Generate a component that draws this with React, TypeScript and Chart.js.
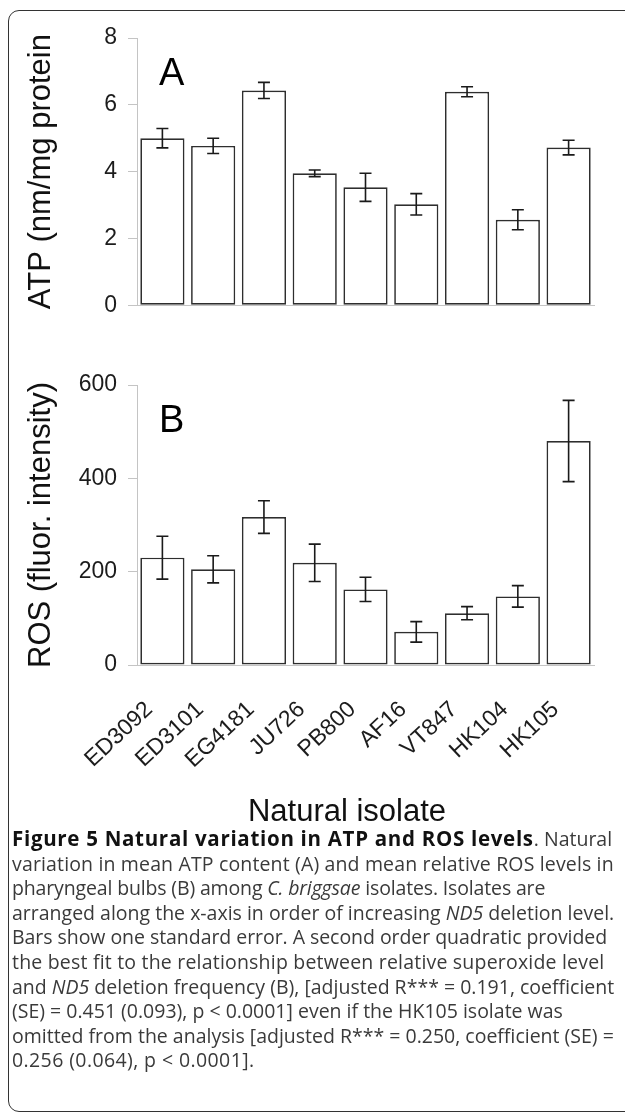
import React, { useEffect, useRef } from "react";
import { Chart, registerables } from "chart.js";

Chart.register(...registerables);

// ---- data ----
const isolates = ["ED3092", "ED3101", "EG4181", "JU726", "PB800", "AF16", "VT847", "HK104", "HK105"];
const atpMean = [5.0, 4.77, 6.43, 3.95, 3.53, 3.02, 6.39, 2.56, 4.72];
const atpSE = [0.29, 0.23, 0.24, 0.1, 0.42, 0.32, 0.15, 0.3, 0.22];
const rosMean = [230, 205, 317, 219, 162, 71, 111, 147, 480];
const rosSE = [46, 29, 35, 40, 26, 22, 14, 23, 87];
const atpTicks = [0, 2, 4, 6, 8];
const rosTicks = [0, 200, 400, 600];

const FONT = "'Liberation Sans', Arial, Helvetica, sans-serif";
const TICK_SIZE = 23;
const AXIS_GRAY = "#c4c4c4";
const INK = "#1c1c1c";

function textWidth(text: string, size: number): number {
  const c = document.createElement("canvas").getContext("2d") as CanvasRenderingContext2D;
  c.font = `normal ${size}px ${FONT}`;
  return c.measureText(text).width;
}

function makeErrorBars(errors: number[]) {
  return {
    id: "errorBars",
    afterDatasetsDraw(chart: any) {
      const ctx = chart.ctx;
      const meta = chart.getDatasetMeta(0);
      const yScale = chart.scales.y;
      const vals = chart.data.datasets[0].data as number[];
      const cap = 6;
      ctx.save();
      ctx.strokeStyle = "#1a1a1a";
      ctx.lineWidth = 1.6;
      meta.data.forEach((bar: any, i: number) => {
        const x = bar.x;
        const yTop = yScale.getPixelForValue(vals[i] + errors[i]);
        const yBot = yScale.getPixelForValue(vals[i] - errors[i]);
        ctx.beginPath();
        ctx.moveTo(x, yTop);
        ctx.lineTo(x, yBot);
        ctx.moveTo(x - cap, yTop);
        ctx.lineTo(x + cap, yTop);
        ctx.moveTo(x - cap, yBot);
        ctx.lineTo(x + cap, yBot);
        ctx.stroke();
      });
      ctx.restore();
    },
  };
}

function makePanelLabel(text: string) {
  return {
    id: "panelLabel",
    afterDraw(chart: any) {
      const { ctx, chartArea } = chart;
      ctx.save();
      ctx.fillStyle = "#000";
      ctx.font = `38px ${FONT}`;
      ctx.textAlign = "left";
      ctx.textBaseline = "alphabetic";
      ctx.fillText(text, chartArea.left + 22, chartArea.top + 47);
      ctx.restore();
    },
  };
}

function barDataset(values: number[]) {
  return {
    data: values,
    backgroundColor: "#ffffff",
    borderColor: "#2e2e2e",
    borderWidth: 1.7,
    borderSkipped: false as const,
    categoryPercentage: 1,
    barPercentage: 0.87,
  };
}

function yAxis(tickValues: number[], title: string, width: number, titlePad: number, mirrored: boolean) {
  const labels = tickValues.map((v) => String(v));
  const widest = Math.max(...labels.map((l) => textWidth(l, TICK_SIZE)));
  const ticks: any = { color: INK, font: { family: FONT, size: TICK_SIZE } };
  if (mirrored) {
    // labels left of the axis, drawn without clipping to the (narrow) scale box
    ticks.mirror = true;
    ticks.crossAlign = "far";
    ticks.padding = -20 - widest;
  } else {
    ticks.padding = 11;
  }
  return {
    min: tickValues[0],
    max: tickValues[tickValues.length - 1],
    afterBuildTicks: (s: any) => {
      s.ticks = tickValues.map((v) => ({ value: v }));
    },
    afterFit: (s: any) => {
      s.width = width;
    },
    ticks,
    grid: { display: true, drawOnChartArea: false, drawTicks: true, tickLength: 9, color: AXIS_GRAY, lineWidth: 1 },
    border: { display: true, color: AXIS_GRAY, width: 1 },
    title: {
      display: true,
      text: title,
      color: "#111",
      font: { family: FONT, size: 31 },
      padding: { top: titlePad, bottom: 0 },
    },
  };
}

function ChartA() {
  const ref = useRef<HTMLCanvasElement>(null);
  useEffect(() => {
    const chart = new Chart(ref.current as HTMLCanvasElement, {
      type: "bar",
      data: { labels: isolates, datasets: [barDataset(atpMean) as any] },
      options: {
        animation: false,
        responsive: true,
        maintainAspectRatio: false,
        layout: { padding: { top: 38, bottom: 14, left: 0, right: 31 } },
        plugins: { legend: { display: false }, tooltip: { enabled: false }, title: { display: false } },
        scales: {
          x: {
            grid: { display: false, drawTicks: false },
            ticks: { display: false },
            border: { display: true, color: AXIS_GRAY, width: 1 },
            afterFit: (s: any) => {
              s.height = 0;
            },
          },
          y: yAxis(atpTicks, "ATP (nm/mg protein", 137, 22.4, false) as any,
        },
      },
      plugins: [makeErrorBars(atpSE), makePanelLabel("A")],
    });
    return () => chart.destroy();
  }, []);
  return (
    <div style={{ position: "absolute", left: 0, top: 0, width: 625, height: 330 }}>
      <canvas ref={ref} />
    </div>
  );
}

function ChartB() {
  const ref = useRef<HTMLCanvasElement>(null);
  useEffect(() => {
    const chart = new Chart(ref.current as HTMLCanvasElement, {
      type: "bar",
      data: { labels: isolates, datasets: [barDataset(rosMean) as any] },
      options: {
        animation: false,
        responsive: true,
        maintainAspectRatio: false,
        layout: { padding: { top: 45, bottom: 0, left: 100, right: 31 } },
        plugins: {
          legend: { display: false },
          tooltip: { enabled: false },
          title: {
            display: true,
            position: "bottom",
            text: "Natural isolate",
            color: "#111",
            font: { family: FONT, size: 31, weight: "normal" },
            padding: { top: 18.8, bottom: 0 },
            fullSize: true,
          },
        },
        scales: {
          x: {
            grid: { display: false, drawTicks: false },
            ticks: {
              color: INK,
              font: { family: FONT, size: TICK_SIZE },
              minRotation: 43,
              maxRotation: 43,
              autoSkip: false,
              padding: 31,
              labelOffset: -13,
            },
            border: { display: true, color: AXIS_GRAY, width: 1 },
            afterFit: (s: any) => {
              s.height = 110;
            },
          },
          y: yAxis(rosTicks, "ROS (fluor. intensity)", 37, -77.6, true) as any,
        },
      },
      plugins: [makeErrorBars(rosSE), makePanelLabel("B")],
    });
    return () => chart.destroy();
  }, []);
  return (
    <div style={{ position: "absolute", left: 0, top: 340, width: 625, height: 491 }}>
      <canvas ref={ref} />
    </div>
  );
}

const ln = (ls: number): React.CSSProperties => ({ whiteSpace: "nowrap", letterSpacing: `${ls}px` });

function Caption() {
  return (
    <div
      style={{
        position: "absolute",
        left: 12,
        top: 826,
        width: 606,
        fontFamily: "'Open Sans', 'Noto Sans', sans-serif",
        fontSize: 19.5,
        lineHeight: "24.6px",
        color: "#3a3a3a",
      }}
    >
      <div style={ln(0)}>
        <b style={{ color: "#111", fontSize: 20.5, letterSpacing: "0.7px" }}>
          Figure 5 Natural variation in ATP and ROS levels
        </b>
        . Natural
      </div>
      <div style={ln(0.15)}>variation in mean ATP content (A) and mean relative ROS levels in</div>
      <div style={ln(-0.15)}>
        pharyngeal bulbs (B) among <i>C. briggsae</i> isolates. Isolates are
      </div>
      <div style={ln(0)}>
        arranged along the x-axis in order of increasing <i>ND5</i> deletion level.
      </div>
      <div style={ln(-0.05)}>Bars show one standard error. A second order quadratic provided</div>
      <div style={ln(0.2)}>the best fit to the relationship between relative superoxide level</div>
      <div style={ln(0)}>
        and <i>ND5</i> deletion frequency (B), [adjusted R*** = 0.191, coefficient
      </div>
      <div style={ln(0)}>(SE) = 0.451 (0.093), p &lt; 0.0001] even if the HK105 isolate was</div>
      <div style={ln(0)}>omitted from the analysis [adjusted R*** = 0.250, coefficient (SE) =</div>
      <div style={ln(0.4)}>0.256 (0.064), p &lt; 0.0001].</div>
    </div>
  );
}

export default function App() {
  return (
    <div
      style={{
        position: "fixed",
        left: 0,
        top: 0,
        width: 625,
        height: 1116,
        overflow: "hidden",
        background: "#fff",
      }}
    >
      <div
        style={{
          position: "absolute",
          left: 8,
          top: 10,
          width: 700,
          height: 1102,
          border: "1.6px solid #333",
          borderRadius: 11,
          boxSizing: "border-box",
        }}
      />
      <ChartA />
      <ChartB />
      <Caption />
    </div>
  );
}
